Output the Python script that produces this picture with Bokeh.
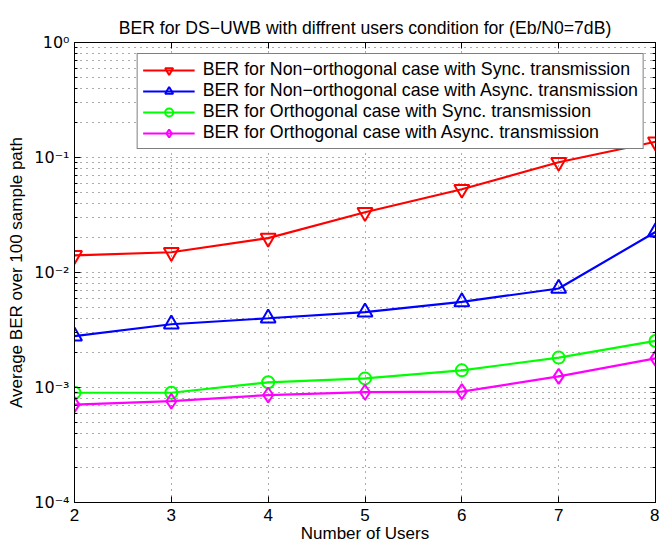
from bokeh.plotting import figure
from bokeh.models import (LinearAxis, LogAxis, Legend, LegendItem,
                          FixedTicker, Range1d, CustomJSTickFormatter)
from bokeh.embed import file_html
from bokeh.resources import INLINE

# Number of active users
users = [2, 3, 4, 5, 6, 7, 8]

# Average BER over 100 sample paths (Eb/N0 = 7 dB)
ber_nonorth_sync = [0.0141, 0.0150, 0.0199, 0.0334, 0.0530, 0.0910, 0.137]
ber_nonorth_async = [0.0028, 0.00355, 0.0040, 0.00452, 0.00555, 0.00726, 0.0225]
ber_orth_sync = [0.00090, 0.00090, 0.00111, 0.00120, 0.00141, 0.00182, 0.00254]
ber_orth_async = [0.00071, 0.00076, 0.00086, 0.00091, 0.00092, 0.00125, 0.00179]

series_labels = [
    "BER for Non\u2212orthogonal case with Sync. transmission",
    "BER for Non\u2212orthogonal case with Async. transmission",
    "BER for Orthogonal case with Sync. transmission",
    "BER for Orthogonal case with Async. transmission",
]

x_ticks = [2, 3, 4, 5, 6, 7, 8]
y_tick_exponents = [0, -1, -2, -3, -4]
y_tick_labels = ["10\u2070", "10\u207b\u00b9", "10\u207b\u00b2", "10\u207b\u00b3", "10\u207b\u2074"]

FONT = "Liberation Sans"

y_major = [10.0 ** e for e in y_tick_exponents]
y_minor = [m * 10.0 ** e for e in y_tick_exponents[1:] for m in range(2, 10)]

p = figure(width=659, height=546,
           x_range=Range1d(2, 8), y_range=Range1d(1e-4, 1),
           y_axis_type="log",
           output_backend="svg", toolbar_location=None,
           min_border_left=74, min_border_right=4,
           min_border_top=42, min_border_bottom=44)
p.background_fill_color = "white"
p.border_fill_color = "white"
p.outline_line_color = "black"

p.title.text = "BER for DS\u2212UWB with diffrent users condition for (Eb/N0=7dB)"
p.title.align = "center"
p.title.text_font = FONT
p.title.text_font_size = "17.6px"
p.title.text_font_style = "normal"
p.title.text_color = "black"

blank = CustomJSTickFormatter(code="return ''")
decade_fmt = CustomJSTickFormatter(
    args=dict(exps=y_tick_exponents, labels=y_tick_labels),
    code="""
        const i = exps.indexOf(Math.round(Math.log10(tick)));
        return i < 0 ? '' : labels[i];
    """)


def style_axis(ax):
    ax.axis_line_color = "black"
    ax.major_tick_line_color = "black"
    ax.minor_tick_line_color = "black"
    ax.major_tick_in = 6
    ax.major_tick_out = 0
    ax.minor_tick_in = 3
    ax.minor_tick_out = 0
    ax.major_label_text_font = FONT
    ax.major_label_text_color = "black"
    ax.axis_label_text_font = FONT
    ax.axis_label_text_font_style = "normal"
    ax.axis_label_text_color = "black"


# bottom axis
xa = p.xaxis[0]
style_axis(xa)
xa.ticker = FixedTicker(ticks=x_ticks)
xa.minor_tick_in = 0
xa.major_label_text_font_size = "17px"
xa.major_label_standoff = 6
xa.axis_label = "Number of Users"
xa.axis_label_text_font_size = "17px"
xa.axis_label_standoff = 0

# left axis with decade labels
ya = p.yaxis[0]
style_axis(ya)
ya.ticker = FixedTicker(ticks=y_major, minor_ticks=y_minor)
ya.formatter = decade_fmt
ya.major_label_text_font = "DejaVu Sans"
ya.major_label_text_font_size = "16px"
ya.major_label_standoff = 5
ya.axis_label = "Average BER over 100 sample path"
ya.axis_label_text_font_size = "17px"
ya.axis_label_standoff = 5

# box axes on top and right with inward ticks
top = LinearAxis(ticker=FixedTicker(ticks=x_ticks), formatter=blank)
style_axis(top)
top.minor_tick_in = 0
top.major_label_standoff = 0
p.add_layout(top, "above")

right = LogAxis(ticker=FixedTicker(ticks=y_major, minor_ticks=y_minor), formatter=blank)
style_axis(right)
right.major_label_standoff = 0
p.add_layout(right, "right")

# dotted grid
for g, minor in ((p.xgrid[0], False), (p.ygrid[0], True)):
    g.grid_line_color = "#222222"
    g.grid_line_alpha = 0.75
    g.grid_line_dash = "1 5"
    g.grid_line_width = 1
    if minor:
        g.minor_grid_line_color = "#222222"
        g.minor_grid_line_alpha = 0.75
        g.minor_grid_line_dash = "1 5"
p.xgrid[0].ticker = FixedTicker(ticks=x_ticks)
p.ygrid[0].ticker = FixedTicker(ticks=y_major, minor_ticks=y_minor)

series = [
    (ber_nonorth_sync, "#ff0000", "inverted_triangle", 15),
    (ber_nonorth_async, "#0000ff", "triangle", 15),
    (ber_orth_sync, "#00ff00", "circle", 12),
    (ber_orth_async, "#ff00ff", "diamond", 15),
]

items = []
for (vals, color, marker, size), label in zip(series, series_labels):
    ln = p.line(users, vals, line_color=color, line_width=2.2)
    sc = p.scatter(users, vals, marker=marker, size=size,
                   line_color=color, line_width=2, fill_alpha=0)
    items.append(LegendItem(label=label, renderers=[ln, sc]))

legend = Legend(items=items, location="top_right",
                label_text_font=FONT, label_text_font_size="17.8px",
                label_text_color="black",
                glyph_width=52, glyph_height=20, label_height=20,
                label_standoff=8, spacing=0, padding=5, margin=11,
                border_line_color="black", border_line_width=1,
                background_fill_color="white", background_fill_alpha=1)
p.add_layout(legend)

open("out.html", "w").write(file_html(p, INLINE))
